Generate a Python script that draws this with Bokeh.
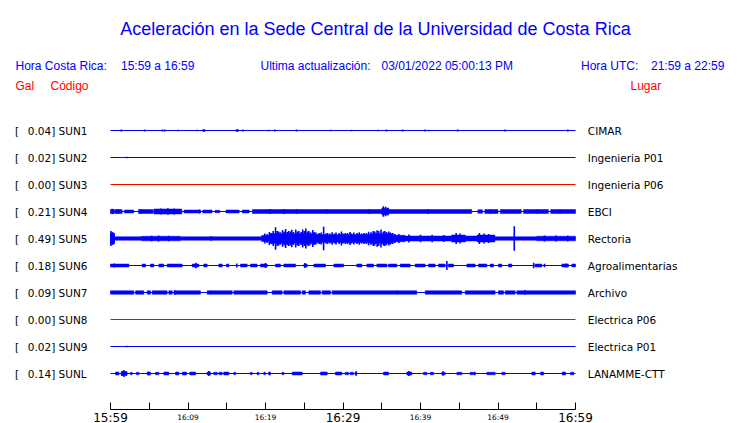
from bokeh.plotting import figure
from bokeh.models import Range1d, LinearAxis, FixedTicker
from bokeh.embed import file_html
from bokeh.resources import INLINE
from bokeh.core.properties import value

# ---------------- data ----------------
title_text = "Aceleración en la Sede Central de la Universidad de Costa Rica"
local_window = "15:59 a 16:59"
utc_window = "21:59 a 22:59"
updated = "03/01/2022 05:00:13 PM"

codes = ["SUN1", "SUN2", "SUN3", "SUN4", "SUN5", "SUN6", "SUN7", "SUN8", "SUN9", "SUNL"]
pga_gal = [0.04, 0.02, 0.00, 0.21, 0.49, 0.18, 0.09, 0.00, 0.02, 0.14]
places = ["CIMAR", "Ingenieria P01", "Ingenieria P06", "EBCI", "Rectoria",
          "Agroalimentarias", "Archivo", "Electrica P06", "Electrica P01", "LANAMME-CTT"]

window_minutes = 60
tick_minutes = list(range(0, 61, 5))
tick_labels = ["15:59", "", "16:09", "", "16:19", "", "16:29", "", "16:39", "", "16:49", "", "16:59"]
big_tick_labels = ["15:59", "16:29", "16:59"]

# envelope segments: (start minute, end minute, half amplitude in Gal)
SUN1_bands = [(11.9, 12.2, 0.04), (16.2, 16.5, 0.04)]
SUN4_bands = [(0.0, 0.4, 0.09), (0.5, 1.5, 0.08), (1.8, 3.0, 0.06), (3.6, 5.5, 0.08), (5.6, 9.2, 0.10),
              (9.5, 11.6, 0.06), (11.9, 13.1, 0.06), (13.5, 14.1, 0.05), (14.9, 16.6, 0.06),
              (17.0, 17.9, 0.06), (18.3, 35.0, 0.08), (35.0, 35.9, 0.13), (35.9, 46.6, 0.08),
              (47.4, 48.0, 0.07), (48.3, 50.0, 0.08), (50.3, 53.0, 0.08), (53.3, 56.5, 0.08), (56.8, 60.0, 0.08)]
SUN5_bands = [(0.0, 0.5, 0.22), (0.5, 4.0, 0.07), (4.0, 9.0, 0.09), (9.0, 19.5, 0.07), (19.5, 20.5, 0.12),
              (20.5, 26.5, 0.19), (26.5, 29.5, 0.15), (29.5, 33.5, 0.16), (33.5, 36.5, 0.19),
              (36.5, 38.0, 0.13), (38.0, 44.0, 0.10), (44.0, 45.8, 0.14), (45.8, 47.3, 0.10),
              (47.3, 49.6, 0.14), (49.6, 55.0, 0.07), (55.0, 60.0, 0.09)]
SUN6_bands = [(0.0, 2.37, 0.06), (4.09, 4.52, 0.06), (5.16, 5.59, 0.06), (6.24, 6.88, 0.06), (7.31, 9.25, 0.06),
              (10.54, 11.4, 0.06), (12.04, 12.47, 0.06), (13.98, 14.41, 0.06), (14.97, 15.27, 0.06),
              (16.77, 17.63, 0.06), (18.06, 18.92, 0.06), (19.35, 20.22, 0.06), (21.29, 21.94, 0.06),
              (22.37, 23.87, 0.06), (24.95, 25.38, 0.06), (26.24, 27.74, 0.06), (28.82, 29.85, 0.06),
              (31.78, 32.43, 0.06), (33.08, 33.94, 0.06), (34.37, 35.66, 0.06), (35.87, 36.95, 0.06),
              (37.38, 38.67, 0.06), (39.31, 40.6, 0.06), (41.03, 41.89, 0.06), (42.32, 43.18, 0.06),
              (43.61, 44.26, 0.06), (45.98, 47.05, 0.06), (47.48, 48.56, 0.06), (48.99, 49.42, 0.06),
              (50.06, 50.49, 0.06), (51.35, 51.78, 0.06), (54.8, 55.66, 0.06), (58.24, 59.1, 0.06),
              (59.53, 60.0, 0.06)]
SUN7_bands = [(0.0, 3.01, 0.07), (3.23, 4.3, 0.07), (4.73, 5.16, 0.07), (5.38, 7.31, 0.07), (7.53, 7.96, 0.07),
              (8.17, 11.61, 0.07), (12.47, 15.7, 0.07), (15.91, 20.22, 0.07), (20.86, 22.15, 0.07),
              (22.37, 24.52, 0.07), (24.73, 25.16, 0.07), (25.59, 27.1, 0.07), (27.31, 28.39, 0.07),
              (28.6, 39.53, 0.07), (40.6, 45.33, 0.07), (45.76, 49.63, 0.07), (50.06, 50.71, 0.07),
              (50.92, 52.21, 0.07), (52.43, 60.0, 0.07)]
SUNL_bands = [(0.65, 1.08, 0.06), (1.38, 2.15, 0.07), (2.58, 2.8, 0.05), (3.35, 3.66, 0.05), (4.73, 5.16, 0.06),
              (5.81, 6.24, 0.05), (6.88, 7.53, 0.06), (8.39, 8.82, 0.06), (9.25, 9.81, 0.06), (10.24, 10.97, 0.06),
              (12.47, 12.9, 0.06), (13.33, 13.76, 0.05), (13.98, 14.41, 0.05), (14.62, 15.27, 0.06),
              (15.91, 16.13, 0.05), (18.06, 18.28, 0.05), (18.92, 19.14, 0.05), (19.78, 20.0, 0.05),
              (20.43, 20.65, 0.05), (22.15, 22.37, 0.05), (23.44, 24.73, 0.06), (27.1, 27.96, 0.06),
              (29.03, 29.85, 0.06), (30.28, 30.71, 0.05), (30.92, 31.35, 0.05), (31.57, 31.78, 0.05),
              (35.23, 35.87, 0.06), (38.24, 38.88, 0.06), (40.39, 40.82, 0.05), (41.25, 41.68, 0.05),
              (42.75, 43.18, 0.05), (44.69, 45.33, 0.05), (46.41, 46.84, 0.05), (48.56, 49.63, 0.05),
              (50.49, 50.92, 0.05), (54.37, 54.8, 0.06), (55.48, 55.91, 0.05), (58.28, 58.71, 0.06),
              (59.35, 59.78, 0.05)]

# isolated peaks: (minute, half amplitude in Gal)
SUN1_spikes = [(1.4, 0.04), (4.4, 0.04), (6.7, 0.04), (7.0, 0.04), (8.7, 0.03), (11.2, 0.03), (17.1, 0.04),
               (20.4, 0.03), (21.2, 0.04), (24.0, 0.04), (28.4, 0.03), (31.1, 0.03), (34.5, 0.03), (35.6, 0.04),
               (37.7, 0.04), (40.6, 0.04), (41.1, 0.03), (44.8, 0.04), (50.9, 0.04), (59.0, 0.04)]
SUN2_spikes = [(2.1, 0.03)]
SUN4_spikes = [(0.3, 0.10), (1.0, 0.09), (3.9, 0.09), (6.5, 0.12), (7.4, 0.13), (8.2, 0.12), (11.5, 0.08),
               (20.6, 0.10), (22.4, 0.10), (24.0, 0.09), (28.0, 0.08), (33.4, 0.09), (35.2, 0.21),
               (35.5, 0.19), (35.8, 0.15), (41.0, 0.09), (49.0, 0.08), (55.0, 0.08), (58.0, 0.08)]
SUN5_spikes = [(0.05, 0.30), (0.25, 0.26), (0.45, 0.20), (5.3, 0.11), (6.2, 0.12), (7.5, 0.11), (13.0, 0.09),
               (19.9, 0.20), (20.2, 0.18), (20.5, 0.26), (20.8, 0.22), (21.0, 0.30), (21.3, 0.45), (21.5, 0.30),
               (21.7, 0.28), (21.9, 0.25), (22.2, 0.33), (22.4, 0.28), (22.6, 0.38), (22.8, 0.26), (23.0, 0.30),
               (23.2, 0.28), (23.4, 0.35), (23.6, 0.26), (23.9, 0.36), (24.1, 0.28), (24.3, 0.30), (24.6, 0.26),
               (24.8, 0.36), (25.0, 0.30), (25.2, 0.40), (25.4, 0.28), (25.6, 0.30), (25.8, 0.25), (26.1, 0.34),
               (26.3, 0.26), (26.5, 0.24), (26.8, 0.20), (27.0, 0.22), (27.2, 0.24), (27.5, 0.47), (27.8, 0.20),
               (28.0, 0.22), (28.3, 0.20), (28.6, 0.25), (28.9, 0.20), (29.1, 0.24), (29.5, 0.22), (29.8, 0.28),
               (30.0, 0.20), (30.3, 0.22), (30.6, 0.22), (30.9, 0.26), (31.1, 0.20), (31.4, 0.24), (31.8, 0.22),
               (32.1, 0.25), (32.4, 0.20), (32.7, 0.22), (33.0, 0.22), (33.3, 0.27), (33.6, 0.25), (33.9, 0.30),
               (34.1, 0.28), (34.4, 0.33), (34.6, 0.30), (34.9, 0.36), (35.2, 0.28), (35.4, 0.30), (35.6, 0.26),
               (35.9, 0.28), (36.1, 0.24), (36.4, 0.22), (36.7, 0.18), (37.2, 0.18), (38.5, 0.16), (40.0, 0.15),
               (41.5, 0.15), (43.0, 0.14), (44.6, 0.22), (45.1, 0.20), (47.6, 0.22), (48.2, 0.20), (48.8, 0.18),
               (52.1, 0.49), (56.0, 0.12), (57.5, 0.12), (59.0, 0.12)]
SUN6_spikes = [(0.5, 0.08), (11.0, 0.11), (16.3, 0.08), (20.0, 0.10), (25.1, 0.10), (30.0, 0.07),
               (43.4, 0.18), (54.6, 0.11), (56.0, 0.07), (58.8, 0.08)]
SUN7_spikes = [(8.3, 0.09), (13.0, 0.07), (37.0, 0.07), (53.5, 0.09)]
SUN9_spikes = [(2.1, 0.03)]
SUNL_spikes = [(1.5, 0.10), (1.72, 0.14), (2.0, 0.09), (4.9, 0.07), (12.7, 0.10), (20.5, 0.07), (31.7, 0.09),
               (38.5, 0.10), (42.9, 0.09), (47.0, 0.07), (55.7, 0.07)]

bands = {"SUN1": SUN1_bands, "SUN4": SUN4_bands, "SUN5": SUN5_bands, "SUN6": SUN6_bands,
         "SUN7": SUN7_bands, "SUNL": SUNL_bands}
spikes = {"SUN1": SUN1_spikes, "SUN2": SUN2_spikes, "SUN4": SUN4_spikes, "SUN5": SUN5_spikes,
          "SUN6": SUN6_spikes, "SUN7": SUN7_spikes, "SUN9": SUN9_spikes, "SUNL": SUNL_spikes}

# ---------------- layout ----------------
W, H = 740, 423
ORIGIN_X, PX_PER_MIN = 110, 7.75     # x of the first minute, pixels per minute
ROW0_Y, ROW_PX = 130, 27             # y of the first trace, pixels between traces
GAL_PX = 25.0                        # pixels per Gal
K = GAL_PX / ROW_PX
BLUE, RED = "#0000ff", "#ff0000"


def X(px):
    return (px - ORIGIN_X) / PX_PER_MIN


def Y(py):
    return (py - ROW0_Y) / ROW_PX


p = figure(width=W, height=H,
           x_range=Range1d(-ORIGIN_X / PX_PER_MIN, (W - ORIGIN_X) / PX_PER_MIN),
           y_range=Range1d((H - ROW0_Y) / ROW_PX, -ROW0_Y / ROW_PX),
           x_axis_type=None, y_axis_type=None, toolbar_location=None,
           output_backend="svg", min_border=0, outline_line_color=None)
p.background_fill_color = "white"
p.border_fill_color = "white"

rows = list(range(len(codes)))
colors = [RED if g == 0 else BLUE for g in pga_gal]

# baselines
p.segment(x0=[0] * len(rows), x1=[window_minutes] * len(rows), y0=rows, y1=rows,
          line_color=colors, line_width=1)

# envelope bands
L, R, T, B, C = [], [], [], [], []
for i, code in enumerate(codes):
    for (s, e, a) in bands.get(code, []):
        L.append(s); R.append(e)
        T.append(i - a * K); B.append(i + a * K)
        C.append(colors[i])
p.quad(left=L, right=R, top=T, bottom=B, fill_color=C, line_color=C, line_width=0.5)

# spikes
sx, sy0, sy1, sc = [], [], [], []
for i, code in enumerate(codes):
    for (t, a) in spikes.get(code, []):
        sx.append(t); sy0.append(i - a * K); sy1.append(i + a * K); sc.append(colors[i])
p.segment(x0=sx, x1=sx, y0=sy0, y1=sy1, line_color=sc, line_width=1.6)

# title and header
sans = value("Liberation Sans")
p.text(x=[X(375)], y=[Y(28)], text=[title_text], text_font=sans, text_font_size="18px",
       text_color=BLUE, text_align="center", text_baseline="alphabetic")
p.text(x=[X(15), X(120.5), X(260), X(381), X(580.5), X(650.5)], y=[Y(65)] * 6,
       text=["Hora Costa Rica:", local_window, "Ultima actualización:", updated, "Hora UTC:", utc_window],
       text_font=sans, text_font_size="12px", text_color=BLUE, text_align="left", text_baseline="alphabetic")
p.text(x=[X(15), X(50), X(630)], y=[Y(85)] * 3, text=["Gal", "Código", "Lugar"],
       text_font=sans, text_font_size="12px", text_color=RED, text_align="left", text_baseline="alphabetic")

# station labels
dv = value("DejaVu Sans")
p.text(x=[X(14.5)] * len(rows), y=rows, text=["["] * len(rows), text_font=dv, text_font_size="10.5px",
       text_color="black", text_align="left", text_baseline="middle")
p.text(x=[X(27.3)] * len(rows), y=rows, text=[f"{g:.2f}] {c}" for g, c in zip(pga_gal, codes)],
       text_font=dv, text_font_size="10.5px", text_color="black", text_align="left", text_baseline="middle")
p.text(x=[X(587.3)] * len(rows), y=rows, text=places, text_font=dv, text_font_size="10.5px",
       text_color="black", text_align="left", text_baseline="middle")

# time axis (two axes on the same line: large and small labels)
axis_y = Y(409)
big_over = {t: (lab if lab in big_tick_labels else "") for t, lab in zip(tick_minutes, tick_labels)}
small_over = {t: ("" if lab in big_tick_labels else lab) for t, lab in zip(tick_minutes, tick_labels)}

ax_big = LinearAxis(fixed_location=axis_y, bounds=(0, window_minutes),
                    ticker=FixedTicker(ticks=tick_minutes, minor_ticks=[]),
                    major_label_overrides=big_over,
                    major_tick_in=7, major_tick_out=0, minor_tick_in=0, minor_tick_out=0,
                    axis_line_color="black", axis_line_width=1, major_tick_line_color="black",
                    major_label_text_font="DejaVu Sans", major_label_text_font_size="12px",
                    major_label_text_color="black", major_label_standoff=1)
ax_small = LinearAxis(fixed_location=axis_y, bounds=(0, window_minutes),
                      ticker=FixedTicker(ticks=tick_minutes, minor_ticks=[]),
                      major_label_overrides=small_over,
                      major_tick_in=0, major_tick_out=0, minor_tick_in=0, minor_tick_out=0,
                      axis_line_color=None, major_tick_line_color=None,
                      major_label_text_font="DejaVu Sans", major_label_text_font_size="7.5px",
                      major_label_text_color="black", major_label_standoff=3)
p.add_layout(ax_big, "below")
p.add_layout(ax_small, "below")

open("out.html", "w").write(file_html(p, INLINE))
